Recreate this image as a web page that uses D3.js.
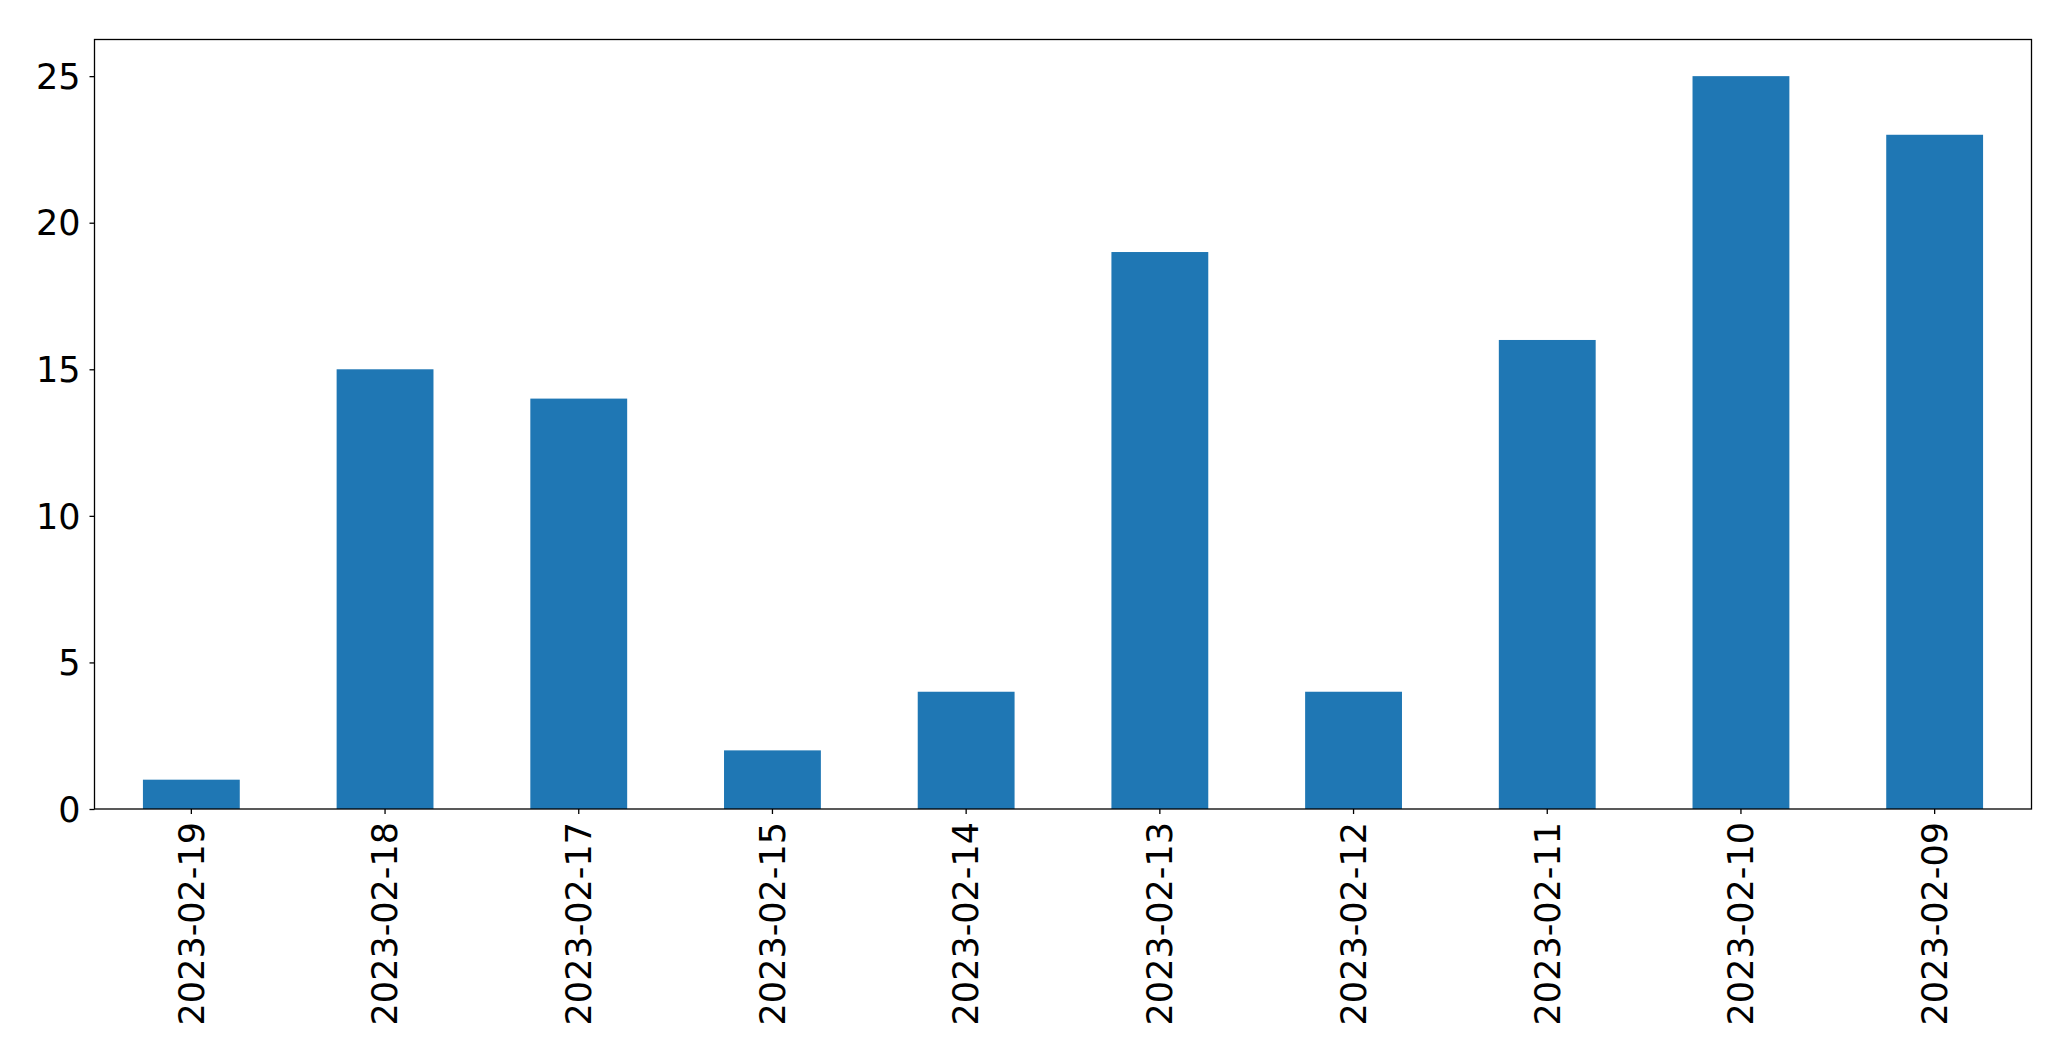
<!DOCTYPE html>
<html>
<head>
<meta charset="utf-8">
<script src="https://cdn.jsdelivr.net/npm/d3@7"></script>
<style>
html,body{margin:0;padding:0;background:#fff;}
svg text{font-family:"DejaVu Sans",sans-serif;fill:#000;}
</style>
</head>
<body>
<svg id="chart" width="2071" height="1061"></svg>
<script>
const categories = ["2023-02-19","2023-02-18","2023-02-17","2023-02-15","2023-02-14","2023-02-13","2023-02-12","2023-02-11","2023-02-10","2023-02-09"];
const values = [1, 15, 14, 2, 4, 19, 4, 16, 25, 23];
const yTicks = [0, 5, 10, 15, 20, 25];

const W = 2071, H = 1061;
const m = {left: 94.5, right: 2031.5, top: 39.5, bottom: 809};
const svg = d3.select("#chart");

const x = d3.scaleBand().domain(categories).range([m.left, m.right]).paddingInner(0.5).paddingOuter(0.25);
const y = d3.scaleLinear().domain([0, 25 * 1.05]).range([m.bottom, m.top]);

svg.append("g").selectAll("rect").data(values).join("rect")
  .attr("x", (d, i) => x(categories[i]))
  .attr("width", x.bandwidth())
  .attr("y", d => y(d))
  .attr("height", d => y(0) - y(d))
  .attr("fill", "#1f77b4");

const fs = 35;
const yAxis = svg.append("g").attr("transform", `translate(${m.left},0)`)
  .call(d3.axisLeft(y).tickValues(yTicks).tickSize(5).tickPadding(9).tickFormat(d3.format("d")));
yAxis.select(".domain").remove();
yAxis.selectAll("text").style("font-size", fs + "px").attr("dy", "0.35em");
yAxis.selectAll("line").attr("stroke", "#000").attr("stroke-width", 1.3);

const xAxis = svg.append("g").attr("transform", `translate(0,${m.bottom})`)
  .call(d3.axisBottom(x).tickSize(5).tickPadding(0));
xAxis.select(".domain").remove();
xAxis.selectAll("line").attr("stroke", "#000").attr("stroke-width", 1.3);
xAxis.selectAll("text")
  .style("font-size", fs + "px")
  .attr("text-anchor", "end")
  .attr("transform", "translate(0,13) rotate(-90)")
  .attr("x", 0).attr("y", 0).attr("dy", "0.35em");

svg.append("rect")
  .attr("x", m.left).attr("y", m.top)
  .attr("width", m.right - m.left).attr("height", m.bottom - m.top)
  .attr("fill", "none").attr("stroke", "#000").attr("stroke-width", 1.3);
</script>
</body>
</html>
